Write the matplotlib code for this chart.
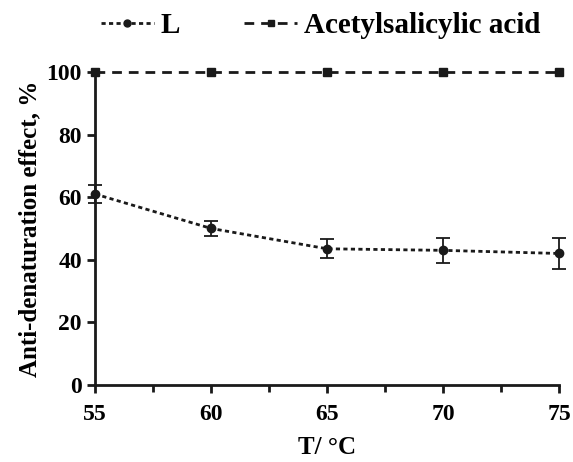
import matplotlib
matplotlib.use("Agg")
import matplotlib.pyplot as plt
from matplotlib.ticker import MultipleLocator
from matplotlib.lines import Line2D

temps = [55, 60, 65, 70, 75]
l_vals = [61, 50, 43.5, 43, 42]
l_err = [3, 2.5, 3, 4, 5]
asa_vals = [100, 100, 100, 100, 100]

plt.rcParams['font.family'] = ['Liberation Serif']
plt.rcParams['font.weight'] = 'bold'

fig = plt.figure(figsize=(5.73, 4.62), dpi=100)
ax = fig.add_axes([0.166, 0.167, 0.810, 0.677])

col = '#1a1a1a'
l_ls = (0, (1.5, 1.2))
a_ls = (0, (3.5, 2.5))
ax.errorbar(temps, l_vals, yerr=l_err, fmt='o', ls=l_ls, color=col,
            ms=6, lw=2, capsize=5, elinewidth=1.3, capthick=1.3, clip_on=False)
ax.plot(temps, asa_vals, marker='s', ls=a_ls, color=col, ms=6, lw=2, clip_on=False)

ax.set_xlim(55, 75)
ax.set_ylim(0, 100)
ax.xaxis.set_major_locator(MultipleLocator(5))
ax.xaxis.set_minor_locator(MultipleLocator(2.5))
ax.yaxis.set_major_locator(MultipleLocator(20))
for s in ['top', 'right']:
    ax.spines[s].set_visible(False)
for s in ['left', 'bottom']:
    ax.spines[s].set_linewidth(2)
    ax.spines[s].set_color(col)
ax.tick_params(axis='both', which='major', length=6, width=2, labelsize=17, color=col)
ax.tick_params(axis='x', which='major', pad=8)
ax.tick_params(axis='x', which='minor', length=5, width=2, color=col)
for lab in ax.get_xticklabels() + ax.get_yticklabels():
    lab.set_fontweight('bold')

ax.set_xlabel('T/ °C', fontsize=18, fontweight='bold', labelpad=8)
ax.set_ylabel('Anti-denaturation effect, %', fontsize=18, fontweight='bold', labelpad=4)

handles = [Line2D([], [], color=col, ls=l_ls, lw=2, marker='o', ms=5),
           Line2D([], [], color=col, ls=a_ls, lw=2, marker='s', ms=5)]
fig.legend(handles, ['L', 'Acetylsalicylic acid'], loc='upper center',
           bbox_to_anchor=(0.56, 1.03), ncol=2, frameon=False,
           fontsize=21, handlelength=1.8, columnspacing=2.2, handletextpad=0.25)

fig.savefig('out.png', dpi=100)
